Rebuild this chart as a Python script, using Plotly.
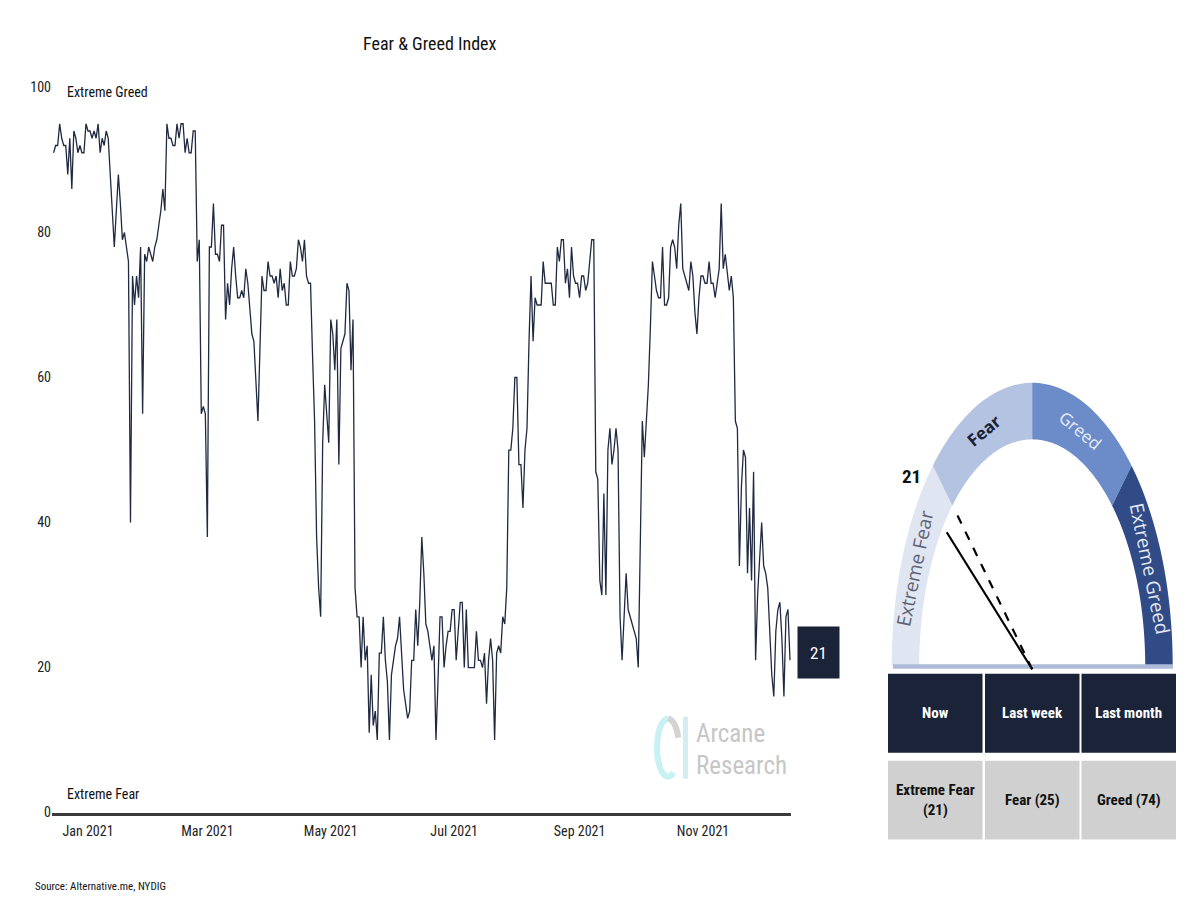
import math
import pandas as pd
import plotly.graph_objects as go

# ---------------- data (daily Fear & Greed index values) ----------------
segment_starts = ["2020-12-15", "2021-01-01", "2021-02-01", "2021-03-01", "2021-04-01", "2021-05-01",
                  "2021-06-01", "2021-07-01", "2021-08-01", "2021-09-01", "2021-10-01", "2021-11-01",
                  "2021-12-01"]
dec_2020 = [91, 92, 92, 95, 93, 92, 92, 88, 93, 86, 94, 93, 91, 92, 91, 91, 95]
jan_2021 = [94, 94, 93, 94, 93, 95, 91, 93, 92, 94, 93, 88, 83, 78, 83, 88, 84, 79, 80, 78,
            76, 40, 74, 70, 74, 71, 78, 55, 77, 76, 78]
feb_2021 = [77, 76, 78, 79, 81, 83, 86, 83, 95, 93, 93, 92, 92, 95, 93, 95, 95, 91, 93, 91,
            91, 94, 94, 76, 79, 55, 56, 55]
mar_2021 = [38, 78, 78, 84, 77, 77, 76, 81, 81, 68, 73, 70, 75, 78, 74, 71, 71, 72, 71, 75,
            73, 70, 66, 65, 60, 54, 64, 74, 72, 72, 76]
apr_2021 = [74, 74, 73, 74, 71, 75, 72, 73, 70, 70, 76, 74, 74, 75, 79, 78, 76, 79, 74, 73,
            73, 63, 54, 38, 31, 27, 51, 59, 55, 51]
may_2021 = [68, 66, 61, 68, 48, 64, 65, 66, 73, 72, 61, 68, 31, 27, 27, 20, 27, 21, 23, 11,
            19, 12, 14, 10, 22, 22, 27, 21, 18, 10, 19]
jun_2021 = [21, 23, 24, 27, 22, 17, 15, 13, 14, 21, 21, 28, 23, 29, 38, 33, 26, 25, 23, 21,
            23, 10, 18, 27, 27, 20, 23, 25, 25, 28]
jul_2021 = [28, 21, 25, 29, 29, 20, 28, 20, 20, 20, 20, 25, 21, 21, 20, 22, 15, 21, 24, 21,
            10, 22, 23, 22, 27, 26, 31, 50, 50, 53, 60]
aug_2021 = [60, 48, 48, 42, 50, 53, 65, 74, 65, 71, 70, 70, 70, 76, 73, 73, 73, 73, 70, 70,
            78, 76, 79, 79, 73, 75, 71, 78, 74, 73, 73]
sep_2021 = [71, 74, 74, 72, 73, 76, 79, 79, 47, 46, 32, 30, 44, 30, 50, 53, 48, 50, 53, 50,
            27, 21, 28, 33, 28, 27, 26, 25, 24, 20]
oct_2021 = [35, 54, 49, 54, 59, 67, 76, 74, 72, 71, 71, 78, 70, 70, 71, 78, 79, 78, 75, 81,
            84, 75, 74, 73, 72, 76, 74, 69, 66, 71, 74]
nov_2021 = [74, 73, 73, 76, 73, 73, 71, 73, 75, 84, 75, 77, 74, 72, 74, 71, 54, 53, 34, 45,
            50, 49, 33, 42, 32, 47, 21, 30, 35, 40]
dec_2021 = [34, 33, 31, 25, 19, 16, 25, 28, 29, 24, 16, 27, 28, 21]

tick_dates = ["2021-01-01", "2021-03-01", "2021-05-01", "2021-07-01", "2021-09-01", "2021-11-01"]
y_ticks = [0, 20, 40, 60, 80, 100]

zone_names = ["Extreme Fear", "Fear", "Greed", "Extreme Greed"]
zone_bounds = [0, 25, 50, 75, 100]

period_labels = ["Now", "Last week", "Last month"]
period_values = [21, 25, 74]

# ---------------- styles ----------------
W, H = 1200, 900
SC, OFF = 0.9835, 6.5          # vertical calibration of the rendered page
FONT = "Roboto Condensed, Liberation Sans Narrow, DejaVu Sans Condensed, Arial Narrow, sans-serif"
GFONT = "Open Sans, DejaVu Sans, sans-serif"
NAVY = "#1b2339"
zone_colors = ["#dfe5f1", "#b4c3e2", "#6b8cc8", "#304b85"]
zone_text_colors = ["#5d6372", "#1b2235", "#e9eef8", "#e3e8f2"]
zone_text_sizes = [19, 17, 17, 19]


def fx(p):
    return p / W


def fy(p):
    return 1 - (p / SC - OFF) / H


segments = [dec_2020, jan_2021, feb_2021, mar_2021, apr_2021, may_2021, jun_2021, jul_2021,
            aug_2021, sep_2021, oct_2021, nov_2021, dec_2021]
dates, vals = [], []
for start, seg in zip(segment_starts, segments):
    dates.extend(pd.date_range(start, periods=len(seg), freq="D"))
    vals.extend(seg)

fig = go.Figure()
fig.add_trace(go.Scatter(x=dates, y=vals, mode="lines",
                         line=dict(color="#1f2940", width=1.3), hoverinfo="skip"))

# x axis calibration (pixel layout of the reference)
jan1 = pd.Timestamp("2021-01-01")
px_per_day = (703 - 88) / 304.0
left_px, right_px = 52, 791
x0 = jan1 + pd.Timedelta(days=(left_px - 88) / px_per_day)
x1 = jan1 + pd.Timedelta(days=(right_px - 88) / px_per_day)

fig.update_layout(
    width=W, height=H, margin=dict(l=0, r=0, t=0, b=0),
    paper_bgcolor="white", plot_bgcolor="rgba(0,0,0,0)", showlegend=False,
    xaxis=dict(domain=[fx(left_px), fx(right_px)], range=[x0, x1], showgrid=False, zeroline=False,
               showline=True, linecolor="#3a3a3a", linewidth=2.5, ticks="",
               tickvals=tick_dates,
               ticktext=[pd.Timestamp(t).strftime("%b %Y") for t in tick_dates],
               tickfont=dict(family=FONT, size=14, color="#222"), ticklabelstandoff=4),
    yaxis=dict(domain=[fy(812), fy(86)], range=[0, 100], showgrid=False, zeroline=False,
               showline=False, ticks="", tickvals=y_ticks,
               tickfont=dict(family=FONT, size=14, color="#222")),
)

ann = []
shapes = []


def text(x, y, s, size, color, family=FONT, xanchor="center", yanchor="middle", **kw):
    ann.append(dict(x=fx(x), y=fy(y), xref="paper", yref="paper", text=s, showarrow=False,
                    xanchor=xanchor, yanchor=yanchor,
                    font=dict(family=family, size=size, color=color), **kw))


text(430, 42, "Fear & Greed Index", 18, "#111")
text(65, 91, "Extreme Greed", 14, "#111", xanchor="left")
text(65, 793, "Extreme Fear", 14, "#111", xanchor="left")
text(33, 886, "Source: Alternative.me, NYDIG", 11, "#111", xanchor="left")

# last value box
ann.append(dict(x=fx(818.5), y=vals[-1], xref="paper", yref="y", yshift=8, text=str(vals[-1]),
                showarrow=False, xanchor="center", yanchor="middle", width=39, height=49, bgcolor=NAVY,
                font=dict(family=FONT, size=17, color="white")))

# watermark
def ring(a_from, a_to, color):
    pts = [(668 + 11 * math.cos(math.radians(a)), 747 - 29 * math.sin(math.radians(a)))
           for a in range(a_from, a_to + 1, 10)]
    path = "M" + " L".join(f"{fx(px)},{fy(py)}" for px, py in pts)
    shapes.append(dict(type="path", xref="paper", yref="paper", path=path,
                       line=dict(color=color, width=6)))


ring(90, 300, "#c8f1f3")
ring(20, 90, "#d4d4d4")
shapes.append(dict(type="rect", xref="paper", yref="paper", x0=fx(683), x1=fx(688), y0=fy(778), y1=fy(716),
                   fillcolor="#d2eef0", line=dict(width=0)))
text(694, 733, "Arcane", 25, "#c6c6c6", xanchor="left")
text(694, 765, "Research", 25, "#c6c6c6", xanchor="left")

# ---------------- gauge ----------------
cx, cy = 1032.2, 665.0
rxo, ryo, rxi, ryi = 140.5, 283.3, 113.0, 226.7


def ang(v):
    return math.radians(180 - 180 * v / 100.0)


for i, name in enumerate(zone_names):
    a0, a1 = ang(zone_bounds[i]), ang(zone_bounds[i + 1])
    n = 40
    pts = []
    for k in range(n + 1):
        t = a0 + (a1 - a0) * k / n
        pts.append((cx + rxo * math.cos(t), cy - ryo * math.sin(t)))
    for k in range(n, -1, -1):
        t = a0 + (a1 - a0) * k / n
        pts.append((cx + rxi * math.cos(t), cy - ryi * math.sin(t)))
    path = "M" + " L".join(f"{fx(px)},{fy(py)}" for px, py in pts) + " Z"
    shapes.append(dict(type="path", xref="paper", yref="paper", path=path,
                       fillcolor=zone_colors[i], line=dict(width=0)))
    tm = (a0 + a1) / 2
    lx = cx + (rxi + rxo) / 2 * math.cos(tm)
    ly = cy - (ryi + ryo) / 2 * math.sin(tm)
    tang = math.degrees(math.atan2(ryo * math.cos(tm), rxo * math.sin(tm)))
    label = f"<b>{name}</b>" if name == "Fear" else name
    text(lx, ly, label, zone_text_sizes[i], zone_text_colors[i], family=GFONT, textangle=tang)

# baseline bar
shapes.append(dict(type="rect", xref="paper", yref="paper", x0=fx(893), x1=fx(1173), y0=fy(668), y1=fy(663.5),
                   fillcolor="#adbbd9", line=dict(width=0)))

# needles (now: solid, last week: dashed)
for v, dash in [(period_values[0], "solid"), (period_values[1], "dash")]:
    t = ang(v)
    ex = cx + rxo * 0.77 * math.cos(t)
    ey = cy - ryo * 0.77 * math.sin(t)
    shapes.append(dict(type="line", xref="paper", yref="paper", x0=fx(cx), y0=fy(668.5), x1=fx(ex), y1=fy(ey),
                       line=dict(color="#000", width=2.2, dash=dash)))

text(911, 476, f"<b>{period_values[0]}</b>", 19, "#111")


def zone_of(v):
    for i in range(4):
        if v < zone_bounds[i + 1] or i == 3:
            return zone_names[i]


# ---------------- table ----------------
col_x = [888, 985, 1081.5]
col_w = 94.5
row_y = [(673, 752), (760, 839)]
for j, lab in enumerate(period_labels):
    xa, xb = col_x[j], col_x[j] + col_w
    shapes.append(dict(type="rect", xref="paper", yref="paper", x0=fx(xa), x1=fx(xb),
                       y0=fy(row_y[0][1]), y1=fy(row_y[0][0]), fillcolor=NAVY, line=dict(width=0)))
    shapes.append(dict(type="rect", xref="paper", yref="paper", x0=fx(xa), x1=fx(xb),
                       y0=fy(row_y[1][1]), y1=fy(row_y[1][0]), fillcolor="#d0d0d0", line=dict(width=0)))
    text((xa + xb) / 2, sum(row_y[0]) / 2, f"<b>{lab}</b>", 15, "white")
    v = period_values[j]
    z = zone_of(v)
    txt = f"<b>{z}<br>({v})</b>" if len(z) > 6 else f"<b>{z} ({v})</b>"
    text((xa + xb) / 2, sum(row_y[1]) / 2, txt, 15, "#111")

fig.update_layout(annotations=ann, shapes=shapes)
fig.write_html("out.html")
